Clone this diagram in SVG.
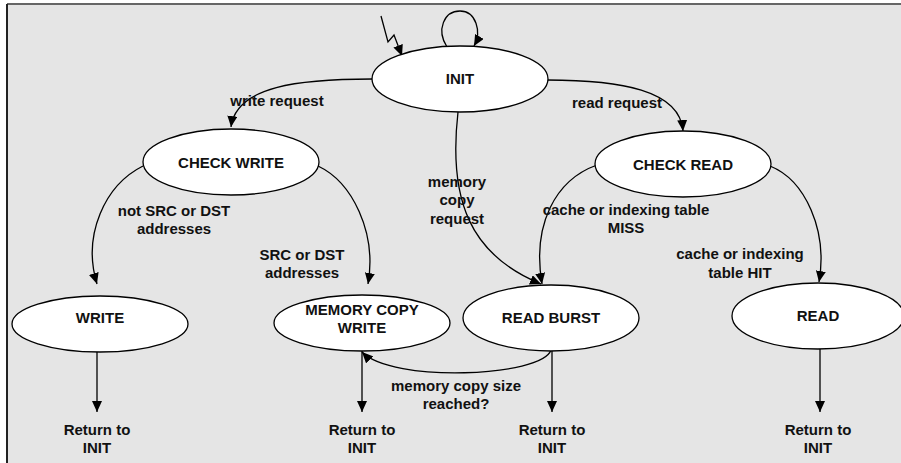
<svg xmlns="http://www.w3.org/2000/svg" width="901" height="463" viewBox="0 0 901 463">
  <style>
    .state { fill: #ffffff; stroke: #000000; stroke-width: 1.3; }
    .label { font-family: "Liberation Sans", Arial, sans-serif; font-size: 15px; font-weight: bold; fill: #111111; text-anchor: middle; }
    .edge { fill: none; stroke: #000000; stroke-width: 1.3; marker-end: url(#arrow); }
  </style>
  <defs>
    <marker id="arrow" markerUnits="userSpaceOnUse" markerWidth="11" markerHeight="10" refX="11" refY="5" orient="auto">
      <path d="M0,0 L11,5 L0,10 Z" fill="#000000"/>
    </marker>
  </defs>

  <!-- panel -->
  <rect x="7" y="4" width="894" height="459" fill="#e5e5e5"/>
  <line x1="7" y1="4" x2="901" y2="4" stroke="#666666" stroke-width="2"/>
  <line x1="7" y1="4" x2="7" y2="463" stroke="#222222" stroke-width="2"/>

  <!-- connectors -->
  <g id="connectors">
    <polyline class="edge" points="381,16 388,42 394,35 402,56"/>
    <path class="edge" d="M447,47 C436,30 444,11 460,11 C476,11 482,32 474,46"/>
    <path class="edge" d="M372,79 C300,79 236,86 231,127"/>
    <path class="edge" d="M547,80 C620,80 680,90 683,131"/>
    <path class="edge" d="M458,112 C448,200 470,255 541,284"/>
    <path class="edge" d="M597,165 C555,180 532,225 542,284"/>
    <path class="edge" d="M770,166 C805,180 828,230 819,282"/>
    <path class="edge" d="M143,166 C105,185 82,235 97,284"/>
    <path class="edge" d="M318,166 C352,182 377,232 368,284"/>
    <path class="edge" d="M551,350 C542,377 392,383 362,352"/>
    <line class="edge" x1="97" y1="352" x2="97" y2="412"/>
    <line class="edge" x1="362" y1="351" x2="362" y2="412"/>
    <line class="edge" x1="552" y1="350" x2="552" y2="412"/>
    <line class="edge" x1="820" y1="349" x2="820" y2="412"/>

    <text class="label" x="277" y="106">write request</text>
    <text class="label" x="617" y="108">read request</text>
    <text class="label" x="457" y="187">memory</text>
    <text class="label" x="457" y="205">copy</text>
    <text class="label" x="457" y="224">request</text>
    <text class="label" x="174" y="216">not SRC or DST</text>
    <text class="label" x="174" y="234">addresses</text>
    <text class="label" x="302" y="260">SRC or DST</text>
    <text class="label" x="302" y="278">addresses</text>
    <text class="label" x="626" y="215">cache or indexing table</text>
    <text class="label" x="626" y="233">MISS</text>
    <text class="label" x="740" y="259">cache or indexing</text>
    <text class="label" x="740" y="278">table HIT</text>
    <text class="label" x="456" y="391">memory copy size</text>
    <text class="label" x="456" y="409">reached?</text>
    <text class="label" x="97" y="435">Return to</text>
    <text class="label" x="97" y="453">INIT</text>
    <text class="label" x="362" y="435">Return to</text>
    <text class="label" x="362" y="453">INIT</text>
    <text class="label" x="552" y="435">Return to</text>
    <text class="label" x="552" y="453">INIT</text>
    <text class="label" x="818" y="435">Return to</text>
    <text class="label" x="818" y="453">INIT</text>
  </g>

  <!-- states -->
  <g id="init">
    <ellipse class="state" cx="460" cy="79" rx="88" ry="33"/>
    <text class="label" x="460" y="84">INIT</text>
  </g>
  <g id="check-write">
    <ellipse class="state" cx="231" cy="162" rx="88" ry="33"/>
    <text class="label" x="231" y="168">CHECK WRITE</text>
  </g>
  <g id="check-read">
    <ellipse class="state" cx="683" cy="164" rx="88" ry="33"/>
    <text class="label" x="683" y="170">CHECK READ</text>
  </g>
  <g id="write">
    <ellipse class="state" cx="100" cy="324" rx="88" ry="28"/>
    <text class="label" x="100" y="323">WRITE</text>
  </g>
  <g id="memory-copy-write">
    <ellipse class="state" cx="362" cy="323" rx="88" ry="28"/>
    <text class="label" x="362" y="315">MEMORY COPY</text>
    <text class="label" x="362" y="333">WRITE</text>
  </g>
  <g id="read-burst">
    <ellipse class="state" cx="551" cy="318" rx="88" ry="33"/>
    <text class="label" x="551" y="323">READ BURST</text>
  </g>
  <g id="read">
    <ellipse class="state" cx="818" cy="316" rx="86" ry="33"/>
    <text class="label" x="818" y="321">READ</text>
  </g>
</svg>
